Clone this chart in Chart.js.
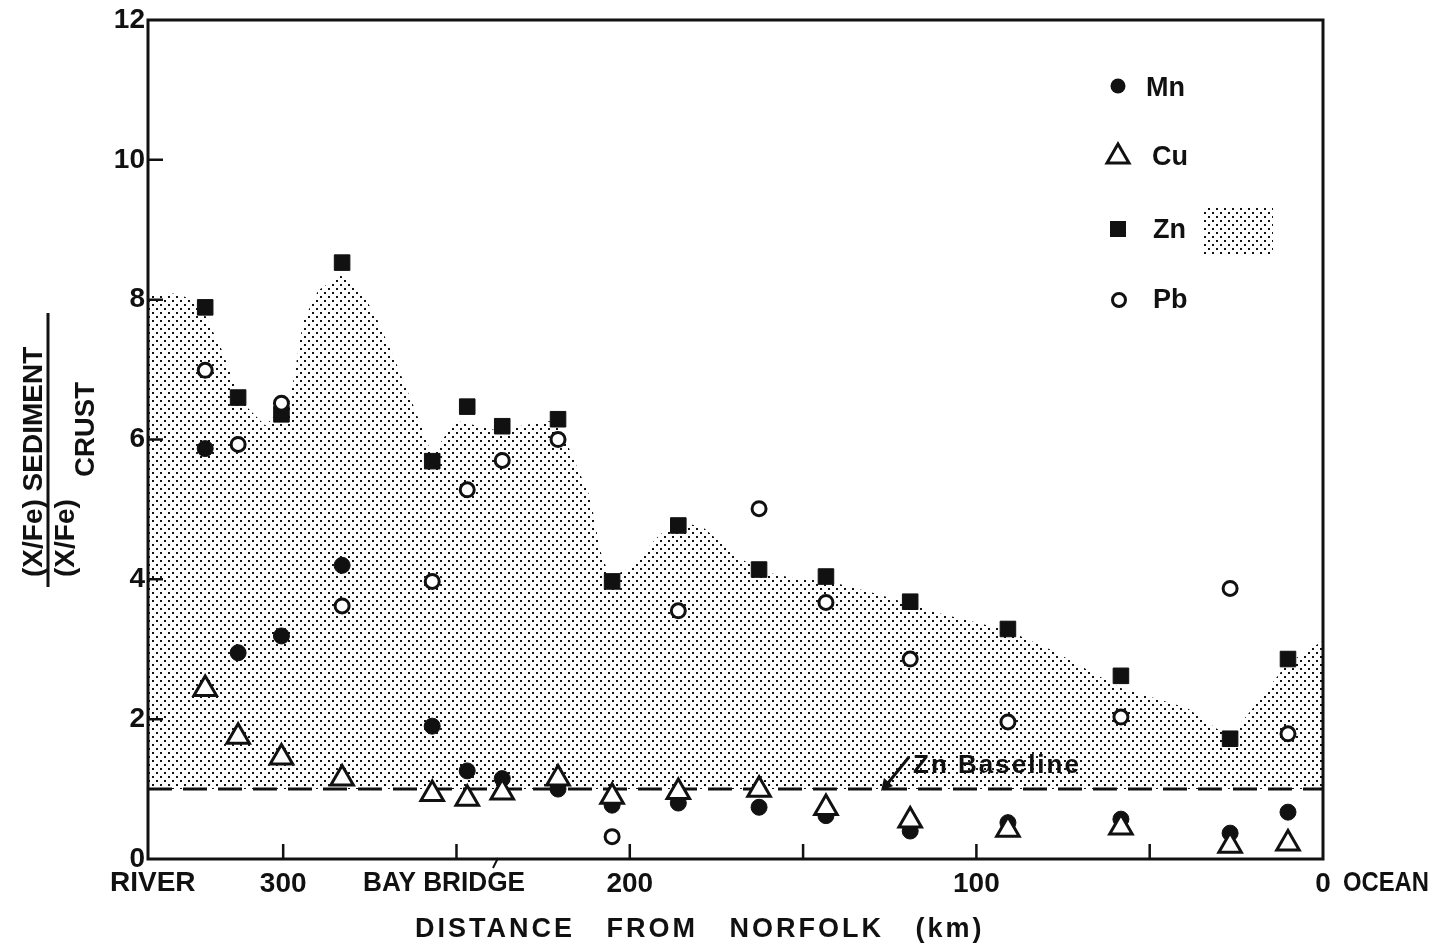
<!DOCTYPE html>
<html>
<head>
<meta charset="utf-8">
<script src="https://cdn.jsdelivr.net/npm/chart.js@4.4.1/dist/chart.umd.min.js"></script>
<style>
  html, body { margin: 0; padding: 0; background: #fff; }
  canvas { display: block; }
</style>
</head>
<body>
<canvas id="chart" width="1440" height="944"></canvas>
<script>
// distance from Norfolk (km) of each sampling station
const stationKm = [322.5, 313.0, 300.5, 283.0, 257.0, 246.9, 236.8, 220.7, 205.1,
                   186.0, 162.7, 143.4, 119.1, 90.9, 58.3, 26.8, 10.1];

// (X/Fe)sediment / (X/Fe)crust
const mnValues = [5.87, 2.95, 3.19, 4.20, 1.90, 1.26, 1.15, 1.00, 0.77,
                  0.80, 0.74, 0.62, 0.40, 0.52, 0.57, 0.37, 0.67];
const cuValues = [2.43, 1.75, 1.45, 1.15, 0.93, 0.86, 0.95, 1.15, 0.89,
                  0.96, 0.99, 0.73, 0.55, 0.42, 0.45, 0.19, 0.22];
const znValues = [7.89, 6.60, 6.36, 8.53, 5.69, 6.47, 6.19, 6.29, 3.97,
                  4.77, 4.14, 4.04, 3.68, 3.29, 2.62, 1.72, 2.86];
const pbValues = [6.99, 5.93, 6.52, 3.62, 3.97, 5.28, 5.70, 6.00, 0.32,
                  3.55, 5.01, 3.67, 2.86, 1.96, 2.03, 3.87, 1.79];

// outline of the shaded Zn band
const znBandKm = [339.0, 330.3, 323.9, 317.6, 312.4, 305.2, 298.0, 294.2, 289.9, 283.5,
                  277.8, 273.4, 267.7, 261.9, 257.0, 250.4, 238.3, 226.7, 221.5, 218.1,
                  211.4, 208.5, 205.7, 199.9, 191.2, 183.4, 178.8, 170.2, 162.4, 152.9,
                  143.1, 128.6, 110.5, 91.1, 77.9, 58.6, 39.2, 29.7, 26.8, 20.2, 10.4, 0];
const znBandTop = [8.06, 8.09, 7.92, 7.27, 6.56, 6.20, 6.56, 7.70, 8.13, 8.35,
                   8.13, 7.78, 7.13, 6.42, 5.77, 6.27, 6.13, 6.24, 6.27, 5.94,
                   5.17, 4.41, 4.02, 4.17, 4.65, 4.80, 4.74, 4.37, 4.12, 4.02,
                   3.98, 3.79, 3.51, 3.27, 2.98, 2.45, 2.16, 1.83, 1.76, 2.16, 2.79, 3.12];

const znBaseline = 1.0;
const baselineKm = [339, 0];

const xTickKm = [300, 250, 200, 150, 100, 50, 0];
const xTickLabels = ['300', '', '200', '', '100', '', '0'];
const yTickValues = [0, 2, 4, 6, 8, 10, 12];

const INK = '#111';
const FONT = '"Liberation Sans", Arial, sans-serif';

const canvas = document.getElementById('chart');
const ctx = canvas.getContext('2d');

// stipple tile for the Zn band
const tile = document.createElement('canvas');
tile.width = 8; tile.height = 8;
const tctx = tile.getContext('2d');
tctx.fillStyle = INK;
tctx.fillRect(0, 0, 2, 2);
tctx.fillRect(4, 4, 2, 2);
const stipple = ctx.createPattern(tile, 'repeat');

const pts = (xs, ys) => xs.map((x, i) => ({ x: x, y: ys[i] }));

const extras = {
  id: 'extras',
  afterDraw(chart) {
    const c = chart.ctx;
    const a = chart.chartArea;
    const xs = chart.scales.x, ys = chart.scales.y;
    c.save();
    c.strokeStyle = INK;
    c.fillStyle = INK;

    // frame
    c.lineWidth = 3;
    c.strokeRect(a.left, a.top, a.right - a.left, a.bottom - a.top);

    // inward tick marks
    c.lineWidth = 2.5;
    c.beginPath();
    xTickKm.forEach(v => {
      if (v <= 0) return;
      const px = xs.getPixelForValue(v);
      c.moveTo(px, a.bottom); c.lineTo(px, a.bottom - 15);
    });
    yTickValues.forEach(v => {
      if (v <= 0 || v >= 12) return;
      const py = ys.getPixelForValue(v);
      c.moveTo(a.left, py); c.lineTo(a.left + 15, py);
    });
    c.stroke();

    // place names along the x axis
    c.font = 'bold 28px ' + FONT;
    c.textBaseline = 'alphabetic';
    c.textAlign = 'left';
    c.fillText('RIVER', 110, 891, 86);
    c.fillText('BAY BRIDGE', 363, 891, 162);
    c.fillText('OCEAN', 1343, 891, 86);
    c.lineWidth = 2;
    c.beginPath(); c.moveTo(493, 868); c.lineTo(498, 858); c.stroke();

    // x axis title
    c.font = 'bold 27px ' + FONT;
    if ('letterSpacing' in c) c.letterSpacing = '3px';
    c.fillText('DISTANCE   FROM   NORFOLK   (km)', 415, 937, 572);
    if ('letterSpacing' in c) c.letterSpacing = '0px';

    // y axis title as a fraction
    c.save();
    c.translate(48, 587);
    c.rotate(-Math.PI / 2);
    c.fillRect(0, -1.5, 274, 3);
    c.font = 'bold 28px ' + FONT;
    c.fillText('(X/Fe) SEDIMENT', 10, -6, 244);
    c.fillText('(X/Fe)', 10, 26, 90);
    c.fillText('CRUST', 110, 46, 95);
    c.restore();

    // legend
    c.font = 'bold 27px ' + FONT;
    c.lineWidth = 3;
    c.beginPath(); c.arc(1118, 86, 7.5, 0, Math.PI * 2); c.fill();
    c.fillText('Mn', 1146, 96);
    c.beginPath();
    c.moveTo(1118, 144); c.lineTo(1129, 163); c.lineTo(1107, 163); c.closePath();
    c.stroke();
    c.fillText('Cu', 1152, 165);
    c.fillRect(1110, 221, 16, 16);
    c.fillText('Zn', 1153, 238);
    c.fillStyle = stipple;
    c.fillRect(1203, 207, 70, 48);
    c.fillStyle = INK;
    c.beginPath(); c.arc(1119, 300, 6.5, 0, Math.PI * 2); c.stroke();
    c.fillText('Pb', 1153, 308);

    // baseline annotation
    c.font = 'bold 26px ' + FONT;
    if ('letterSpacing' in c) c.letterSpacing = '2px';
    c.fillText('Zn Baseline', 913, 773, 170);
    if ('letterSpacing' in c) c.letterSpacing = '0px';
    c.lineWidth = 3;
    c.beginPath(); c.moveTo(909, 757); c.lineTo(888, 783); c.stroke();
    c.beginPath();
    c.moveTo(881, 791); c.lineTo(884, 778); c.lineTo(893, 786); c.closePath();
    c.fill();

    c.restore();
  }
};

new Chart(ctx, {
  type: 'scatter',
  data: {
    datasets: [
      {
        type: 'line', label: 'Zn band',
        data: pts(znBandKm, znBandTop),
        borderWidth: 0, borderColor: 'rgba(0,0,0,0)',
        backgroundColor: stipple,
        fill: { value: znBaseline },
        pointRadius: 0, tension: 0, order: 10
      },
      {
        type: 'line', label: 'Zn Baseline',
        data: pts(baselineKm, baselineKm.map(() => znBaseline)),
        borderColor: INK, borderWidth: 3, borderDash: [24, 11],
        pointRadius: 0, fill: false, order: 9
      },
      {
        label: 'Zn', data: pts(stationKm, znValues),
        pointStyle: 'rect', pointRadius: 11, pointBackgroundColor: INK,
        pointBorderColor: INK, pointBorderWidth: 1, order: 4
      },
      {
        label: 'Mn', data: pts(stationKm, mnValues),
        pointStyle: 'circle', pointRadius: 8, pointBackgroundColor: INK,
        pointBorderColor: INK, pointBorderWidth: 1, order: 3
      },
      {
        label: 'Cu', data: pts(stationKm, cuValues),
        pointStyle: 'triangle', pointRadius: 13, pointBackgroundColor: '#fff',
        pointBorderColor: INK, pointBorderWidth: 3, order: 2
      },
      {
        label: 'Pb', data: pts(stationKm, pbValues),
        pointStyle: 'circle', pointRadius: 7, pointBackgroundColor: '#fff',
        pointBorderColor: INK, pointBorderWidth: 3, order: 1
      }
    ]
  },
  options: {
    responsive: false,
    animation: false,
    events: [],
    layout: { padding: { top: 20, right: 117, left: 0, bottom: 0 } },
    plugins: { legend: { display: false }, tooltip: { enabled: false } },
    scales: {
      x: {
        type: 'linear', reverse: true, min: 0, max: 339,
        afterBuildTicks: s => { s.ticks = xTickKm.map(v => ({ value: v })); },
        afterFit: s => { s.height = 85; },
        grid: { display: false, drawTicks: false },
        border: { display: false },
        ticks: {
          autoSkip: false, maxRotation: 0, padding: 8, color: INK,
          font: { family: FONT, size: 28, weight: 'bold' },
          callback: v => { const i = xTickKm.indexOf(v); return i < 0 ? '' : xTickLabels[i]; }
        }
      },
      y: {
        min: 0, max: 12,
        afterBuildTicks: s => { s.ticks = yTickValues.map(v => ({ value: v })); },
        afterFit: s => { s.width = 148; },
        grid: { display: false, drawTicks: false },
        border: { display: false },
        ticks: {
          padding: 3, color: INK,
          font: { family: FONT, size: 28, weight: 'bold' },
          callback: v => String(v)
        }
      }
    }
  },
  plugins: [extras]
});
</script>
</body>
</html>
